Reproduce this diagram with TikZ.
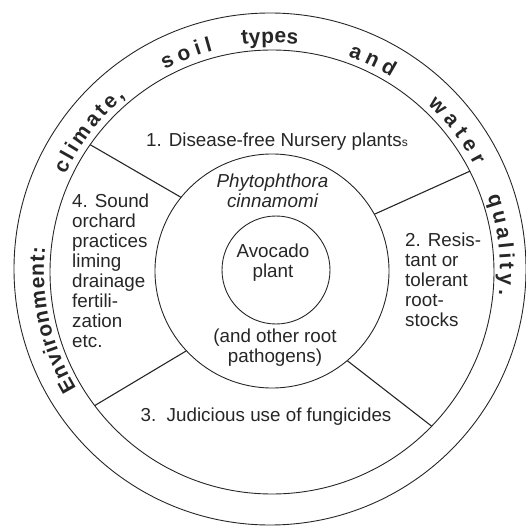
\documentclass[tikz,border=0pt]{standalone}
\usepackage{fontspec}
\setmainfont{Liberation Sans}
\usetikzlibrary{decorations.text}
\newcommand\bodyfnt{\fontsize{18.8}{20}\selectfont}
\newcommand\ringfnt{\fontsize{21}{21}\selectfont\bfseries}

\begin{document}
\begin{tikzpicture}[
  x=1pt, y=1pt,
  disc/.style={draw=black!85, circle, line width=0.9pt, inner sep=0pt, outer sep=0pt},
  divider/.style={draw=black!85, line width=1.1pt},
  txt/.style={font=\bodyfnt, text=black!85, inner sep=0pt, align=center},
  lcol/.style={txt, align=left, anchor=north west},
  ringword/.style={decorate, decoration={text along path, text={|\ringfnt|#1}, text color=black!85, text align=fit to path}}
]
\useasboundingbox (-272,-256) rectangle (253,271);

\node[disc, minimum size=512] (outer) at (-2,2) {};
\node[disc, minimum size=444] (ring) at (0,-1) {};
\node[disc, minimum size=234] (mid) at (0,0) {};
\node[disc, minimum size=108] (core) at (4,1) {};

\draw[divider] (ring.145) -- (mid.141);
\draw[divider] (ring.27.5) -- (mid.29);
\draw[divider] (ring.217) -- (mid.223);
\draw[divider] (ring.316) -- (mid.310);

\path[ringword={Environment:}] (211:228) arc[start angle=211, end angle=174, radius=228];
\path[ringword={climate,}] (155:228) arc[start angle=155, end angle=130, radius=228];
\path[ringword={soil}] (118:228) arc[start angle=118, end angle=105, radius=228];
\path[ringword={types}] (97.5:228) arc[start angle=97.5, end angle=83.5, radius=228];
\path[ringword={and}] (70.5:228) arc[start angle=70.5, end angle=58.5, radius=228];
\path[ringword={water}] (47:228) arc[start angle=47, end angle=27.5, radius=228];
\path[ringword={quality.}] (19:228) arc[start angle=19, end angle=-6, radius=228];

\node[txt, anchor=base] (nursery) at (5,124) {1. Disease-free Nursery plants{\fontsize{12}{12}\selectfont s}};
\node[txt, anchor=north, font=\bodyfnt\itshape] (pathogen) at (0.5,97) {Phytophthora\\cinnamomi};
\node[txt, anchor=north] (avocado) at (1,27) {Avocado\\plant};
\node[txt, anchor=north] (other) at (3,-58) {(and other root\\pathogens)};
\node[lcol] (orchard) at (-200,77) {4. Sound\\orchard\\practices\\liming\\drainage\\fertili-\\zation\\etc.};
\node[lcol] (stocks) at (133,38) {2. Resis-\\tant or\\tolerant\\root-\\stocks};
\node[txt, anchor=base] (fungi) at (-6,-150) {3.\ \ Judicious use of fungicides};
\end{tikzpicture}
\end{document}
